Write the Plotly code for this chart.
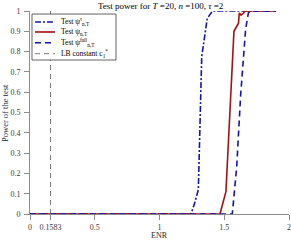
import plotly.graph_objects as go

# ENR grid points and power values
x_tau = [0, 1.243, 1.27, 1.30, 1.326, 1.369, 1.41, 1.9]
y_tau = [0, 0, 0.05, 0.12, 0.775, 0.964, 1.0, 1.0]

x_psi = [0, 1.467, 1.513, 1.544, 1.575, 1.61, 1.616, 1.63, 1.65, 1.66, 1.9]
y_psi = [0, 0, 0.11, 0.51, 0.90, 0.94, 0.99, 0.98, 0.99, 1.0, 1.0]

x_full = [0, 1.562, 1.596, 1.627, 1.665, 1.686, 1.70, 1.9]
y_full = [0, 0, 0.23, 0.59, 0.91, 0.99, 1.0, 1.0]

lb_const = 0.1583
lb_y = [0, 1]

x_ticks = [0, 0.1583, 0.5, 1, 1.5, 2]
x_ticktext = ["0", "0.1583", "0.5", "1", "1.5", "2"]
y_ticks = [0, 0.1, 0.2, 0.3, 0.4, 0.5, 0.6, 0.7, 0.8, 0.9, 1]

legend_names = ["Test ψ<sup>τ</sup><sub>n,T</sub>",
                "Test ψ<sub>n,T</sub>",
                "Test ψ<sup>full</sup><sub>n,T</sub>",
                "LB constant c<sub>1</sub><sup>*</sup>"]

blue = "rgb(20,20,170)"
red = "rgb(165,15,15)"
gray = "rgb(90,90,90)"
font = "Liberation Serif"

styles = [dict(color=blue, width=1.6, dash="6px,2px,2px,2px"),
          dict(color=red, width=1.6),
          dict(color=blue, width=1.6, dash="6px,4px"),
          dict(color=gray, width=0.8, dash="5px,4px")]

fig = go.Figure()
series = [(x_tau, y_tau), (x_psi, y_psi), (x_full, y_full),
          ([lb_const, lb_const], lb_y)]
for (xs, ys), name, st in zip(series, legend_names, styles):
    fig.add_trace(go.Scatter(x=xs, y=ys, mode="lines", name=name, line=st,
                             showlegend=False))

# manual legend (compact, MATLAB-like)
shapes = [dict(type="rect", xref="paper", yref="paper",
               x0=0.0077, x1=0.332, y0=0.7586, y1=0.985,
               fillcolor="white", line=dict(color="rgb(60,60,60)", width=0.8),
               layer="above")]
annotations = []
entry_y = [0.946, 0.8966, 0.8438, 0.7897]
for ey, name, st in zip(entry_y, legend_names, styles):
    shapes.append(dict(type="line", xref="paper", yref="paper",
                       x0=0.0193, x1=0.0965, y0=ey, y1=ey, line=st, layer="above"))
    annotations.append(dict(text=name, xref="paper", yref="paper", x=0.112, y=ey,
                            xanchor="left", yanchor="middle", showarrow=False,
                            font=dict(family=font, size=7.5, color="black")))

annotations.append(dict(text="ENR", xref="paper", yref="paper", x=0.5, y=-0.108,
                        xanchor="center", yanchor="middle", showarrow=False,
                        font=dict(family=font, size=8, color="rgb(40,40,40)")))
annotations.append(dict(text="Power of the test", xref="paper", yref="paper",
                        x=-0.0985, y=0.5, textangle=-90,
                        xanchor="center", yanchor="middle", showarrow=False,
                        font=dict(family=font, size=8.5, color="rgb(40,40,40)")))

fig.update_layout(
    width=291, height=240,
    margin=dict(l=30, r=2, t=11, b=26),
    paper_bgcolor="white", plot_bgcolor="white",
    font=dict(family=font, size=8, color="rgb(60,60,60)"),
    title=dict(text="Test power for <i>T</i> =20, <i>n</i> =100, <i>τ</i> =2",
               x=0.552, xanchor="center", y=0.99, yanchor="top",
               font=dict(family=font, size=9, color="black")),
    showlegend=False,
    shapes=shapes,
    annotations=annotations,
    xaxis=dict(range=[0, 2], tickvals=x_ticks, ticktext=x_ticktext,
               automargin=False,
               showgrid=False, zeroline=False, showline=True,
               linecolor="rgb(140,140,140)", linewidth=1,
               ticks="outside", ticklen=5, tickcolor="rgb(140,140,140)",
               ticklabelstandoff=0,
               tickfont=dict(family=font, size=8, color="rgb(60,60,60)")),
    yaxis=dict(range=[0, 1], tickvals=y_ticks,
               automargin=False,
               showgrid=False, zeroline=False, showline=True,
               linecolor="rgb(140,140,140)", linewidth=1,
               ticks="outside", ticklen=5, tickcolor="rgb(140,140,140)",
               ticklabelstandoff=2,
               tickfont=dict(family=font, size=8, color="rgb(60,60,60)")),
)

fig.write_html("out.html", config={"displayModeBar": False},
               post_script="document.body.style.margin='0';")
